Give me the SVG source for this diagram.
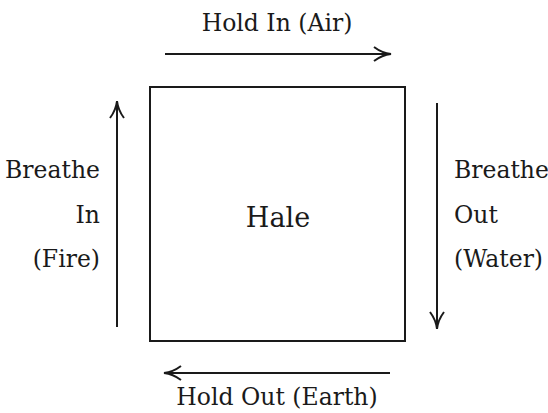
<svg xmlns="http://www.w3.org/2000/svg" width="548" height="413" viewBox="0 0 548 413">
<style>
text{font-family:"DejaVu Serif","Liberation Serif",serif;fill:#1a1a1a;font-size:23.5px}
text.big{font-size:27px}
.ln{stroke:#1a1a1a;stroke-width:2;fill:none}
</style>
<defs>
<marker id="ah" viewBox="0 0 20 16" refX="18" refY="8" markerWidth="20" markerHeight="16" markerUnits="userSpaceOnUse" orient="auto">
<path d="M2,1 Q10,7 19,8 Q10,9 2,15" fill="none" stroke="#1a1a1a" stroke-width="2"/>
</marker>
</defs>
<rect width="548" height="413" fill="#fff"/>
<g id="hale">
<rect x="150" y="87" width="255" height="254" class="ln"/>
<text class="big" x="278" y="227" text-anchor="middle">Hale</text>
</g>
<g id="connectors">
<line x1="165" y1="54" x2="390" y2="54" class="ln" marker-end="url(#ah)"/>
<line x1="437" y1="103" x2="437" y2="328" class="ln" marker-end="url(#ah)"/>
<line x1="390" y1="373" x2="165" y2="373" class="ln" marker-end="url(#ah)"/>
<line x1="117" y1="327" x2="117" y2="102" class="ln" marker-end="url(#ah)"/>
</g>
<g id="labels">
<text x="277" y="31" text-anchor="middle">Hold In (Air)</text>
<text x="277" y="405" text-anchor="middle">Hold Out (Earth)</text>
<text x="100" y="178" text-anchor="end">Breathe</text>
<text x="100" y="223" text-anchor="end">In</text>
<text x="100" y="267" text-anchor="end">(Fire)</text>
<text x="454" y="178">Breathe</text>
<text x="454" y="223">Out</text>
<text x="454" y="267">(Water)</text>
</g>
</svg>
